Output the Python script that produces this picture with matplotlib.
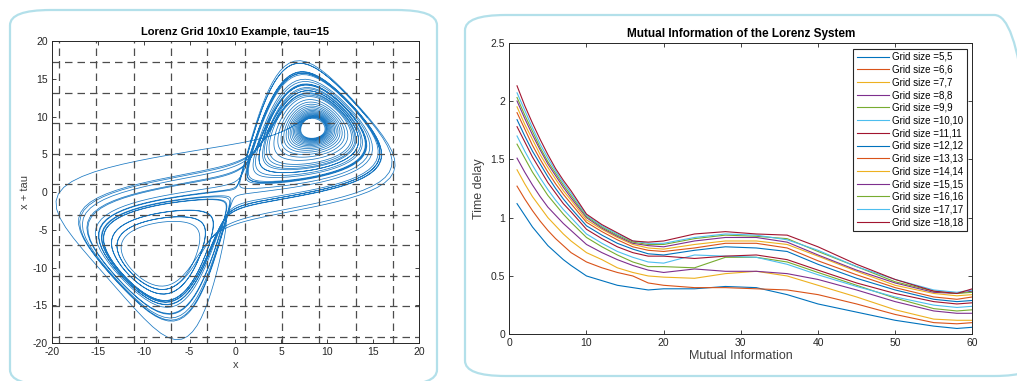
import numpy as np
import matplotlib
matplotlib.use("Agg")
import matplotlib.pyplot as plt
from matplotlib.patches import FancyBboxPatch

plt.rcParams['font.family'] = ['Liberation Sans', 'DejaVu Sans']
plt.rcParams['axes.unicode_minus'] = False

# left panel: Lorenz run, embedded as (x, x + tau)
sigma, rho, beta = 10.0, 28.0, 8.0 / 3.0
start = [-1.0, -1.0, 1.0]
dt = 0.01
n_steps = 4000
tau = 15

# 10x10 grid edges
grid_edges = [-19.2, -15.15, -11.1, -7.05, -3.05, 1.0, 5.05, 9.1, 13.15, 17.2]

# right panel: mutual information curves
mi_x = [1, 2, 3, 4, 5, 6, 7, 8, 10, 12, 14, 16, 18, 20, 24, 28, 32, 36, 40, 45, 50, 55, 58, 60]
grid_sizes = [5, 6, 7, 8, 9, 10, 11, 12, 13, 14, 15, 16, 17, 18]
mi_5 = [1.12, 1.02, 0.92, 0.84, 0.76, 0.70, 0.64, 0.59, 0.50, 0.46, 0.42, 0.40, 0.38, 0.39, 0.39, 0.41, 0.40, 0.34, 0.26, 0.19, 0.12, 0.07, 0.05, 0.06]
mi_6 = [1.27, 1.16, 1.06, 0.97, 0.89, 0.82, 0.76, 0.70, 0.62, 0.57, 0.53, 0.50, 0.44, 0.42, 0.40, 0.40, 0.39, 0.38, 0.34, 0.26, 0.17, 0.10, 0.09, 0.10]
mi_7 = [1.41, 1.29, 1.18, 1.09, 1.00, 0.93, 0.86, 0.80, 0.70, 0.64, 0.57, 0.53, 0.50, 0.49, 0.48, 0.52, 0.54, 0.50, 0.42, 0.32, 0.21, 0.13, 0.12, 0.12]
mi_8 = [1.51, 1.39, 1.28, 1.18, 1.09, 1.02, 0.95, 0.89, 0.77, 0.70, 0.64, 0.59, 0.55, 0.53, 0.56, 0.54, 0.54, 0.52, 0.47, 0.38, 0.28, 0.20, 0.18, 0.18]
mi_9 = [1.63, 1.51, 1.39, 1.29, 1.19, 1.11, 1.03, 0.96, 0.83, 0.75, 0.68, 0.62, 0.58, 0.58, 0.57, 0.66, 0.66, 0.62, 0.53, 0.42, 0.31, 0.22, 0.20, 0.21]
mi_10 = [1.70, 1.57, 1.45, 1.34, 1.24, 1.15, 1.07, 1.00, 0.86, 0.78, 0.71, 0.66, 0.62, 0.61, 0.68, 0.67, 0.66, 0.60, 0.51, 0.41, 0.32, 0.25, 0.23, 0.24]
mi_11 = [1.78, 1.65, 1.52, 1.41, 1.30, 1.21, 1.12, 1.05, 0.90, 0.82, 0.75, 0.70, 0.67, 0.67, 0.65, 0.67, 0.68, 0.64, 0.55, 0.44, 0.35, 0.28, 0.26, 0.27]
mi_12 = [1.84, 1.70, 1.57, 1.46, 1.35, 1.25, 1.16, 1.08, 0.93, 0.85, 0.78, 0.73, 0.69, 0.68, 0.72, 0.75, 0.74, 0.71, 0.60, 0.48, 0.38, 0.30, 0.28, 0.29]
mi_13 = [1.90, 1.76, 1.62, 1.50, 1.39, 1.29, 1.20, 1.12, 0.96, 0.88, 0.81, 0.75, 0.72, 0.71, 0.74, 0.78, 0.78, 0.74, 0.63, 0.51, 0.40, 0.32, 0.30, 0.32]
mi_14 = [1.95, 1.80, 1.67, 1.54, 1.43, 1.33, 1.23, 1.15, 0.98, 0.90, 0.83, 0.77, 0.74, 0.73, 0.77, 0.80, 0.80, 0.77, 0.67, 0.54, 0.42, 0.35, 0.33, 0.34]
mi_15 = [2.00, 1.85, 1.71, 1.58, 1.46, 1.36, 1.26, 1.17, 1.00, 0.91, 0.84, 0.78, 0.76, 0.75, 0.80, 0.83, 0.83, 0.79, 0.68, 0.55, 0.44, 0.36, 0.35, 0.37]
mi_16 = [2.03, 1.88, 1.74, 1.60, 1.48, 1.38, 1.28, 1.19, 1.01, 0.92, 0.85, 0.79, 0.77, 0.77, 0.82, 0.85, 0.84, 0.82, 0.71, 0.58, 0.45, 0.37, 0.35, 0.36]
mi_17 = [2.07, 1.92, 1.77, 1.63, 1.51, 1.40, 1.30, 1.21, 1.02, 0.93, 0.86, 0.80, 0.78, 0.78, 0.83, 0.86, 0.85, 0.81, 0.72, 0.58, 0.47, 0.38, 0.36, 0.38]
mi_18 = [2.13, 1.96, 1.81, 1.67, 1.54, 1.42, 1.32, 1.23, 1.03, 0.94, 0.87, 0.80, 0.79, 0.80, 0.86, 0.88, 0.86, 0.85, 0.75, 0.60, 0.47, 0.37, 0.35, 0.39]
mi_curves = [mi_5, mi_6, mi_7, mi_8, mi_9, mi_10, mi_11, mi_12, mi_13, mi_14, mi_15, mi_16, mi_17, mi_18]

matlab_colors = ['#0072BD', '#D95319', '#EDB120', '#7E2F8E', '#77AC30', '#4DBEEE', '#A2142F']


def lorenz(s):
    x, y, z = s
    return np.array([sigma * (y - x), x * (rho - z) - y, x * y - beta * z])


# RK4
traj = np.zeros((n_steps, 3))
s = np.array(start)
for i in range(n_steps):
    traj[i] = s
    k1 = lorenz(s)
    k2 = lorenz(s + dt / 2 * k1)
    k3 = lorenz(s + dt / 2 * k2)
    k4 = lorenz(s + dt * k3)
    s = s + dt / 6 * (k1 + 2 * k2 + 2 * k3 + k4)
xs = traj[:, 0]

fig = plt.figure(figsize=(10.17, 3.81), dpi=100)

# rounded panel frames (left, bottom, width, height in px)
for box in [(10, -4, 427, 375), (465, 5, 570, 361)]:
    x0, y0, w, h = box
    fig.patches.append(FancyBboxPatch((x0 / 1017, y0 / 381), w / 1017, h / 381,
                                      boxstyle="round,pad=0,rounding_size=0.04",
                                      transform=fig.transFigure, fill=False,
                                      edgecolor='#b3e0ea', lw=1.6, zorder=0))

ax1 = fig.add_axes([0.0511, 0.0997, 0.3609, 0.7927])
ax1.plot(xs[:-tau], xs[tau:], color='#1a78c2', lw=0.55)
for g in grid_edges:
    ax1.axvline(g, color='#4d4d4d', ls=(0, (6, 4)), lw=0.9)
    ax1.axhline(g, color='#4d4d4d', ls=(0, (6, 4)), lw=0.9)
ax1.set_xlim(-20, 20)
ax1.set_ylim(-20, 20)
ax1.set_xticks(range(-20, 21, 5))
ax1.set_yticks(range(-20, 21, 5))
ax1.set_title("Lorenz Grid 10x10 Example, tau=15", fontsize=8, fontweight='bold', pad=4)
ax1.set_xlabel("x", fontsize=8, color='#404040', labelpad=2)
ax1.set_ylabel("x + tau", fontsize=8, color='#404040', labelpad=2)

ax2 = fig.add_axes([0.5008, 0.1226, 0.4553, 0.7654])
for i, (n, vals) in enumerate(zip(grid_sizes, mi_curves)):
    ax2.plot(mi_x, vals, color=matlab_colors[i % 7], lw=0.8, label="Grid size =%d,%d" % (n, n))
ax2.set_xlim(0, 60)
ax2.set_ylim(0, 2.5)
ax2.set_xticks(range(0, 61, 10))
ax2.set_yticks([0, 0.5, 1, 1.5, 2, 2.5])
ax2.set_yticklabels(['0', '0.5', '1', '1.5', '2', '2.5'])
ax2.set_title("Mutual Information of the Lorenz System", fontsize=8.5, fontweight='bold', pad=4)
ax2.set_xlabel("Mutual Information", fontsize=9, color='#404040', labelpad=1)
ax2.set_ylabel("Time delay", fontsize=9, color='#404040', labelpad=4)
leg = ax2.legend(loc='upper right', fontsize=7, handlelength=3.3, handletextpad=0.3,
                 labelspacing=0.28, borderpad=0.35, borderaxespad=0.6, fancybox=False,
                 framealpha=1)
leg.get_frame().set_edgecolor('#262626')
leg.get_frame().set_linewidth(0.8)

for ax in (ax1, ax2):
    ax.tick_params(direction='in', top=True, right=True, labelsize=7.5,
                   colors='#262626', length=3, width=0.6, pad=3)
    for sp in ax.spines.values():
        sp.set_color('#262626')
        sp.set_linewidth(0.7)

fig.savefig("out.png", dpi=100)
